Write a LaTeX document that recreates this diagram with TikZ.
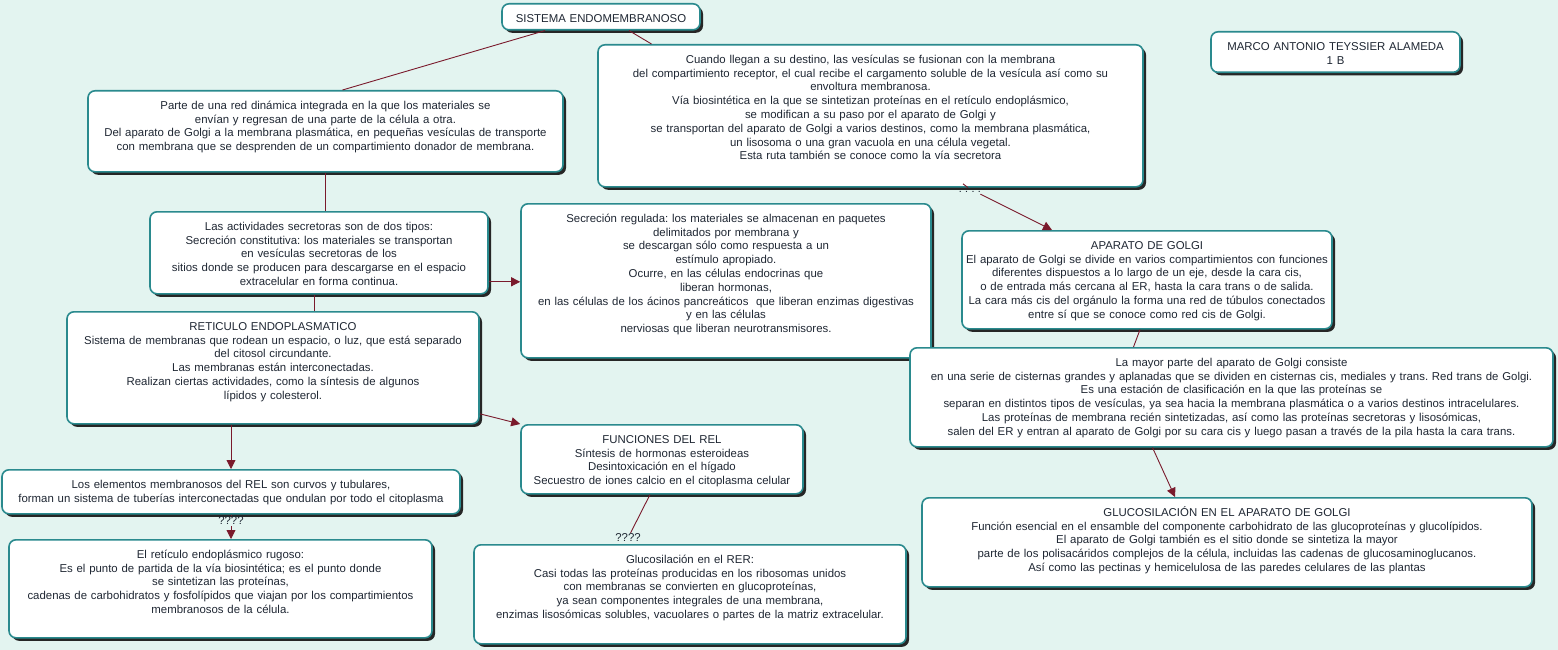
\documentclass[tikz,border=0pt]{standalone}
\usepackage{fontspec}
\setmainfont{Liberation Sans}
\usetikzlibrary{arrows.meta,shadows}
\definecolor{fondo}{HTML}{E3F4F0}
\definecolor{borde}{HTML}{2A8A8E}
\definecolor{granate}{HTML}{7A1A2C}
\definecolor{letra}{HTML}{1F2733}
\frenchspacing

\begin{document}
\begin{tikzpicture}
        [x=1pt, y=-1pt, inner sep=1pt,
         concepto/.style={rectangle, rounded corners=7pt, draw=borde, line width=1.6pt, fill=white,
            drop shadow={shadow xshift=3pt, shadow yshift=-3pt, fill=black!85, opacity=1},
            anchor=north, align=center, text=letra, inner xsep=1pt, inner ysep=5pt,
            text height=13.5pt, font=\fontsize{11.4}{13.8}\selectfont},
         frase/.style={text=letra, font=\fontsize{11.4}{12}\selectfont},
         conector/.style={draw=granate, line width=0.9pt},
         >={Triangle[length=9pt, width=9pt]}]
        \fill [fondo] (0,0) rectangle (1558,650);
        \node (q3) at (970,189) [frase] {????};
        % conceptos
        \node (titulo) at (601,3) [concepto, text width=196pt, text depth=2.5pt] {SISTEMA ENDOMEMBRANOSO};
        \node (marco) at (1335.5,31) [concepto, text width=247pt, text depth=17pt]
            {MARCO ANTONIO TEYSSIER ALAMEDA\\1 B};
        \node (parte) at (325.5,90) [concepto, text width=473pt, text depth=57.5pt]
            {Parte de una red dinámica integrada en la que los materiales se\\
             envían y regresan de una parte de la célula a otra.\\
             Del aparato de Golgi a la membrana plasmática, en pequeñas vesículas de transporte\\
             con membrana que se desprenden de un compartimiento donador de membrana.};
        \node (cuando) at (870.5,44) [concepto, text width=543pt, text depth=118.5pt]
            {Cuando llegan a su destino, las vesículas se fusionan con la membrana\\
             del compartimiento receptor, el cual recibe el cargamento soluble de la vesícula así como su\\
             envoltura membranosa.\\
             Vía biosintética en la que se sintetizan proteínas en el retículo endoplásmico,\\
             se modifican a su paso por el aparato de Golgi y\\
             se transportan del aparato de Golgi a varios destinos, como la membrana plasmática,\\
             un lisosoma o una gran vacuola en una célula vegetal.\\
             Esta ruta también se conoce como la vía secretora};
        \node (activ) at (319,211) [concepto, text width=336pt, text depth=58.5pt]
            {Las actividades secretoras son de dos tipos:\\
             Secreción constitutiva: los materiales se transportan\\
             en vesículas secretoras de los\\
             sitios donde se producen para descargarse en el espacio\\
             extracelular en forma continua.};
        \node (secreg) at (726,203) [concepto, text width=408pt, text depth=130.5pt]
            {Secreción regulada: los materiales se almacenan en paquetes\\
             delimitados por membrana y\\
             se descargan sólo como respuesta a un\\
             estímulo apropiado.\\
             Ocurre, en las células endocrinas que\\
             liberan hormonas,\\
             en las células de los ácinos pancreáticos\ \ que liberan enzimas digestivas\\
             y en las células\\
             nerviosas que liberan neurotransmisores.};
        \node (golgi) at (1147,230) [concepto, text width=368pt, text depth=74.5pt]
            {APARATO DE GOLGI\\
             El aparato de Golgi se divide en varios compartimientos con funciones\\
             diferentes dispuestos a lo largo de un eje, desde la cara cis,\\
             o de entrada más cercana al ER, hasta la cara trans o de salida.\\
             La cara más cis del orgánulo la forma una red de túbulos conectados\\
             entre sí que se conoce como red cis de Golgi.};
        \node (mayor) at (1231.5,347) [concepto, text width=641pt, text depth=75.5pt]
            {La mayor parte del aparato de Golgi consiste\\
             en una serie de cisternas grandes y aplanadas que se dividen en cisternas cis, mediales y trans. Red trans de Golgi.\\
             Es una estación de clasificación en la que las proteínas se\\
             separan en distintos tipos de vesículas, ya sea hacia la membrana plasmática o a varios destinos intracelulares.\\
             Las proteínas de membrana recién sintetizadas, así como las proteínas secretoras y lisosómicas,\\
             salen del ER y entran al aparato de Golgi por su cara cis y luego pasan a través de la pila hasta la cara trans.};
        \node (retic) at (273,311) [concepto, text width=410pt, text depth=88.5pt]
            {RETICULO ENDOPLASMATICO\\
             Sistema de membranas que rodean un espacio, o luz, que está separado\\
             del citosol circundante.\\
             Las membranas están interconectadas.\\
             Realizan ciertas actividades, como la síntesis de algunos\\
             lípidos y colesterol.};
        \node (funciones) at (662,424) [concepto, text width=280pt, text depth=45.5pt]
            {FUNCIONES DEL REL\\
             Síntesis de hormonas esteroideas\\
             Desintoxicación en el hígado\\
             Secuestro de iones calcio en el citoplasma celular};
        \node (elementos) at (231,469) [concepto, text width=456pt, text depth=20.5pt]
            {Los elementos membranosos del REL son curvos y tubulares,\\
             forman un sistema de tuberías interconectadas que ondulan por todo el citoplasma};
        \node (rer) at (220.5,539) [concepto, text width=421pt, text depth=74.5pt]
            {El retículo endoplásmico rugoso:\\
             Es el punto de partida de la vía biosintética; es el punto donde\\
             se sintetizan las proteínas,\\
             cadenas de carbohidratos y fosfolípidos que viajan por los compartimientos\\
             membranosos de la célula.};
        \node (glucrer) at (690,544) [concepto, text width=430pt, text depth=75.5pt]
            {Glucosilación en el RER:\\
             Casi todas las proteínas producidas en los ribosomas unidos\\
             con membranas se convierten en glucoproteínas,\\
             ya sean componentes integrales de una membrana,\\
             enzimas lisosómicas solubles, vacuolares o partes de la matriz extracelular.};
        \node (glucgolgi) at (1227,497) [concepto, text width=608pt, text depth=65.5pt]
            {GLUCOSILACIÓN EN EL APARATO DE GOLGI\\
             Función esencial en el ensamble del componente carbohidrato de las glucoproteínas y glucolípidos.\\
             El aparato de Golgi también es el sitio donde se sintetiza la mayor\\
             parte de los polisacáridos complejos de la célula, incluidas las cadenas de glucosaminoglucanos.\\
             Así como las pectinas y hemicelulosa de las paredes celulares de las plantas};
        % frases de enlace
        \node (q1) at (231,521) [frase] {????};
        \node (q2) at (628,538) [frase] {????};
        % conectores
        \draw [conector] ([xshift=-56pt]titulo.south) -- ([xshift=17pt]parte.north);
        \draw [conector] ([xshift=28pt]titulo.south) -- ([xshift=-219pt]cuando.north);
        \draw [conector] (parte.south) -- (parte.south |- activ.north);
        \draw [conector] ([xshift=-5pt]activ.south) -- ([xshift=-5pt]activ.south |- retic.north);
        \draw [conector, ->] ([yshift=-29pt]activ.east) -- ([yshift=-29pt]activ.east -| secreg.west);
        \draw [conector, ->] ([yshift=-46pt]retic.east) -- (funciones.north west);
        \draw [conector, ->] ([xshift=-42pt]retic.south) -- ([xshift=-42pt]retic.south |- elementos.north);
        \draw [conector] (elementos.south) -- (q1);
        \draw [conector, ->] (q1) -- (q1 |- rer.north);
        \draw [conector] ([xshift=-12pt]funciones.south) -- (q2);
        \draw [conector] (cuando) -- (q3);
        \draw [conector, ->] (q3) -- ([xshift=-95pt]golgi.north);
        \draw [conector] ([xshift=-7pt]golgi.south) -- ([xshift=-98pt]mayor.north);
        \draw [conector, ->] ([xshift=-79pt]mayor.south) -- ([xshift=-52pt]glucgolgi.north);
    \end{tikzpicture}
\end{document}
